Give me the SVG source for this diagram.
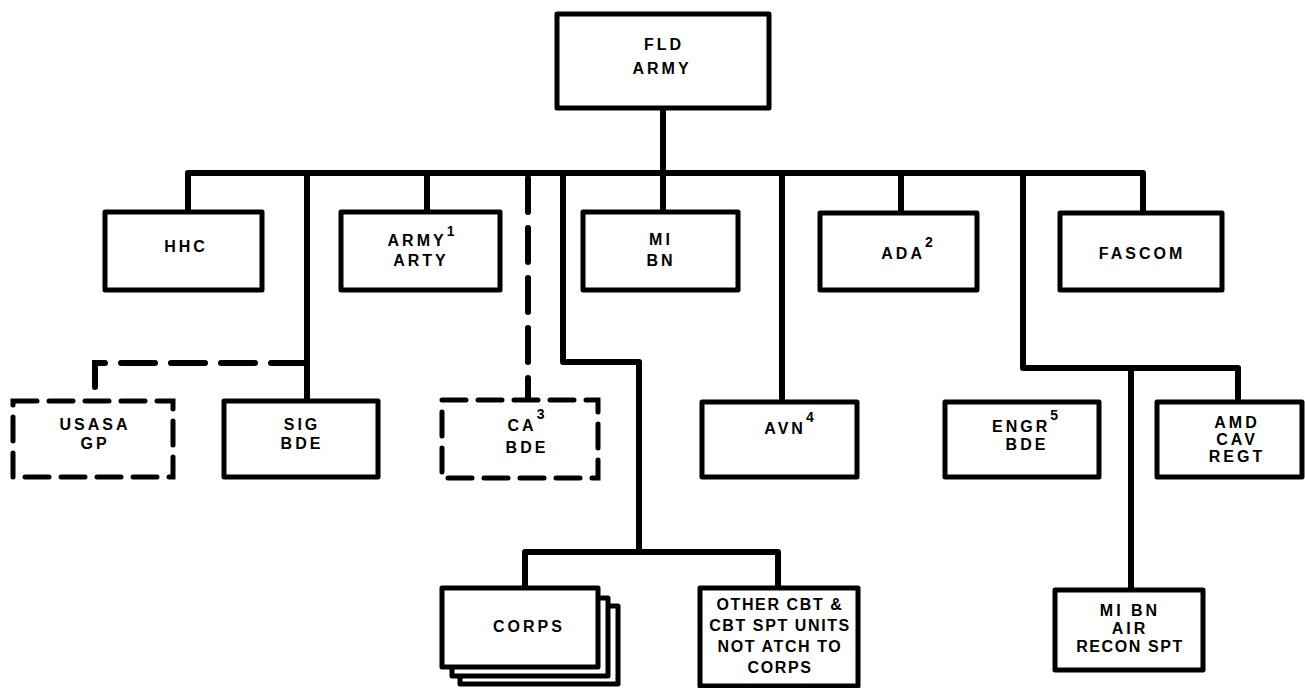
<svg xmlns="http://www.w3.org/2000/svg" width="1305" height="688" viewBox="0 0 1305 688">
<style>
.box{fill:#fff;stroke:#000;stroke-width:5;stroke-linejoin:round}
.dbox{fill:#fff;stroke:#000;stroke-width:5;stroke-dasharray:24 12;stroke-linecap:round}
.ln{fill:none;stroke:#000;stroke-width:6;stroke-linejoin:round}
.dln{fill:none;stroke:#000;stroke-width:6;stroke-dasharray:34 16;stroke-linecap:round}
text{font-family:"Liberation Sans",Arial,sans-serif;font-weight:bold;font-size:16px;letter-spacing:3px;text-anchor:middle;fill:#000}
.sm{letter-spacing:1.6px}
.sup{font-size:14px;letter-spacing:0}
</style>
<rect width="1305" height="688" fill="#fff"/>
<g id="connectors">
<path class="ln" d="M663,108 V173"/>
<path class="ln" d="M188,212 V173 H1143 V213"/>
<path class="ln" d="M307,173 V401"/>
<path class="ln" d="M427,173 V212"/>
<path class="ln" d="M663,173 V212"/>
<path class="ln" d="M782,173 V402"/>
<path class="ln" d="M901,173 V213"/>
<path class="ln" d="M1023,173 V368 H1238 V402"/>
<path class="ln" d="M1131,368 V590"/>
<path class="ln" d="M563,173 V362 H639 V552"/>
<path class="ln" d="M525,588 V552 H778 V588"/>
<path class="dln" d="M528,178 V400"/>
<path class="dln" d="M305,363 H95 V401"/>
</g>
<g id="fld-army"><rect class="box" x="557" y="14" width="212" height="94"/><text x="664" y="50">FLD</text><text x="662" y="74">ARMY</text></g>
<g id="hhc"><rect class="box" x="105" y="212" width="157" height="78"/><text x="186" y="252">HHC</text></g>
<g id="army-arty"><rect class="box" x="341" y="212" width="159" height="78"/><text x="421" y="246">ARMY<tspan class="sup" dy="-10">1</tspan></text><text x="421" y="266">ARTY</text></g>
<g id="mi-bn"><rect class="box" x="583" y="212" width="155" height="78"/><text x="661" y="245">MI</text><text x="661" y="266">BN</text></g>
<g id="ada"><rect class="box" x="820" y="213" width="157" height="77"/><text x="907" y="259">ADA<tspan class="sup" dy="-12">2</tspan></text></g>
<g id="fascom"><rect class="box" x="1060" y="213" width="162" height="77"/><text x="1142" y="259">FASCOM</text></g>
<g id="usasa-gp"><rect class="dbox" x="13" y="401" width="160" height="76"/><text x="95" y="430">USASA</text><text x="95" y="449">GP</text></g>
<g id="sig-bde"><rect class="box" x="224" y="401" width="154" height="76"/><text x="302" y="430">SIG</text><text x="302" y="449">BDE</text></g>
<g id="ca-bde"><rect class="dbox" x="442" y="400" width="156" height="78"/><text x="526" y="431">CA<tspan class="sup" dy="-12">3</tspan></text><text x="527" y="453">BDE</text></g>
<g id="avn"><rect class="box" x="702" y="402" width="155" height="75"/><text x="789" y="434">AVN<tspan class="sup" dy="-12">4</tspan></text></g>
<g id="engr-bde"><rect class="box" x="945" y="402" width="154" height="75"/><text x="1025" y="432">ENGR<tspan class="sup" dy="-12">5</tspan></text><text x="1027" y="450">BDE</text></g>
<g id="amd-cav-regt"><rect class="box" x="1157" y="402" width="145" height="75"/><text x="1237" y="428">AMD</text><text x="1237" y="445">CAV</text><text x="1237" y="462">REGT</text></g>
<g id="corps"><rect class="box" x="460" y="606" width="158" height="78"/><rect class="box" x="452" y="598" width="156" height="78"/><rect class="box" x="442" y="588" width="156" height="79"/><text x="529" y="632">CORPS</text></g>
<g id="other-units"><rect class="box" x="700" y="588" width="158" height="98"/><text class="sm" x="780" y="610">OTHER CBT &amp;</text><text class="sm" x="780" y="631">CBT SPT UNITS</text><text class="sm" x="780" y="652">NOT ATCH TO</text><text class="sm" x="780" y="673">CORPS</text></g>
<g id="mi-bn-air-recon-spt"><rect class="box" x="1055" y="590" width="148" height="80"/><text x="1130" y="616">MI BN</text><text x="1130" y="634">AIR</text><text class="sm" x="1130" y="652">RECON SPT</text></g>
</svg>
